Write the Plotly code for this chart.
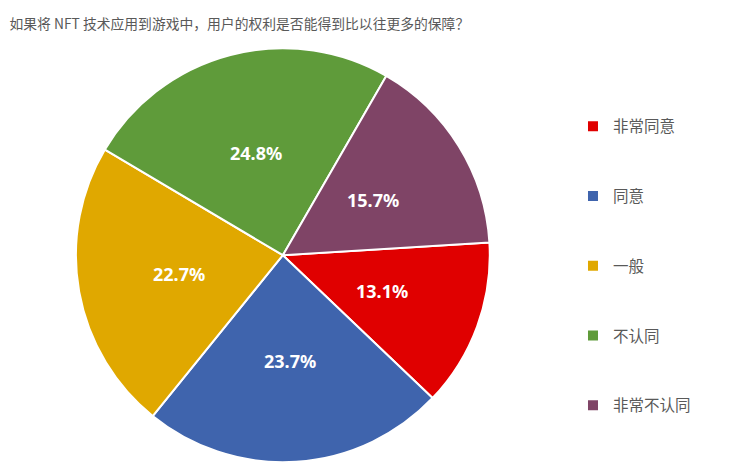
import math
import plotly.graph_objects as go

# 数据
categories = ['非常同意', '同意', '一般', '不认同', '非常不认同']
shares = [13.1, 23.7, 22.7, 24.8, 15.7]
colors = ['#E00000', '#3F64AD', '#E0A800', '#5F9B3A', '#7F4466']

title = '如果将 NFT 技术应用到游戏中，用户的权利是否能得到比以往更多的保障？'

W, H = 729, 473
rotation = 86.5
dom_x = [0.104, 0.672]
dom_y = [0.023, 0.898]

fig = go.Figure()
fig.add_trace(go.Pie(
    labels=categories,
    values=shares,
    sort=False,
    direction='clockwise',
    rotation=rotation,
    marker=dict(colors=colors, line=dict(color='white', width=2)),
    textinfo='none',
    domain=dict(x=dom_x, y=dom_y),
    showlegend=False,
    hoverinfo='label+percent',
))

# 数据标签：放在约半径一半的位置（Excel 的默认效果）
cx = (dom_x[0] + dom_x[1]) / 2 * W
cy = (dom_y[0] + dom_y[1]) / 2 * H
r_lab = 0.51 * (dom_y[1] - dom_y[0]) * H / 2
total = sum(shares)
cum = 0
for v in shares:
    ang = math.radians(rotation + (cum + v / 2) / total * 360)
    cum += v
    fig.add_annotation(
        x=(cx + r_lab * math.sin(ang)) / W, y=(cy + r_lab * math.cos(ang)) / H,
        xref='paper', yref='paper', xanchor='center', yanchor='middle',
        showarrow=False,
        text='<b>%.1f%%</b>' % v,
        font=dict(color='white', size=18, family='Noto Sans'),
    )

# 图例用单独的空散点，方便拉开间距
for name, c in zip(categories, colors):
    fig.add_trace(go.Scatter(
        x=[None], y=[None], mode='markers', name=name, legendgroup=name,
        marker=dict(symbol='square', size=10, color=c),
    ))

fig.update_layout(
    width=W, height=H,
    margin=dict(l=0, r=0, t=0, b=0),
    paper_bgcolor='white', plot_bgcolor='white',
    font=dict(family='Noto Sans CJK SC', color='#595959'),
    title=dict(text=title, x=0.013, xanchor='left', y=0.949, yanchor='middle',
               font=dict(size=13.8, color='#595959')),
    xaxis=dict(visible=False), yaxis=dict(visible=False),
    legend=dict(x=0.786, y=0.768, xanchor='left', yanchor='top',
                tracegroupgap=46.6, font=dict(size=15.5, color='#595959'),
                itemwidth=30),
)

fig.write_html('out.html', config={'displayModeBar': False},
               post_script="document.body.style.margin='0';")
